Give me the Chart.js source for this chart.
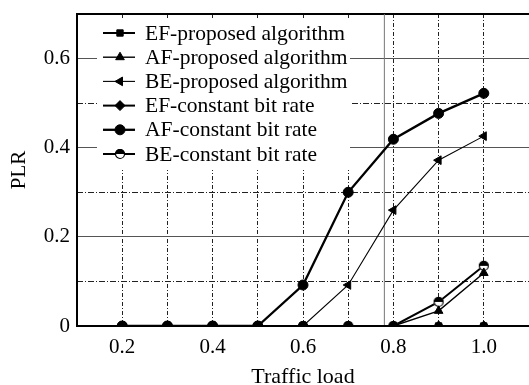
<!DOCTYPE html>
<html>
<head>
<meta charset="utf-8">
<script src="https://cdn.jsdelivr.net/npm/chart.js@4.4.0/dist/chart.umd.min.js"></script>
<style>
  html, body { margin: 0; padding: 0; background: #fff; }
  #wrap { width: 529px; height: 385px; }
</style>
</head>
<body>
<div id="wrap"><canvas id="chart"></canvas></div>
<script>
// traffic load on the x axis
const loads = [0.2, 0.3, 0.4, 0.5, 0.6, 0.7, 0.8, 0.9, 1.0];

// packet loss ratio per class
const efProposed = [0, 0, 0, 0, 0, 0, 0, 0, 0];
const afProposed = [0, 0, 0, 0, 0, 0, 0, 0.034, 0.119];
const beProposed = [0, 0, 0, 0, 0, 0.092, 0.26, 0.372, 0.426];
const efConstant = [0, 0, 0, 0, 0, 0, 0, 0, 0];
const afConstant = [0, 0, 0, 0, 0.092, 0.30, 0.419, 0.477, 0.522];
const beConstant = [0, 0, 0, 0, 0, 0, 0, 0.054, 0.135];

// stray vertical rule in the original figure
const ruleX = [0.78, 0.78];
const ruleY = [0, 0.7];

const xTicks = [0.1, 0.2, 0.3, 0.4, 0.5, 0.6, 0.7, 0.8, 0.9, 1.0, 1.1];
const yMajorTicks = [0, 0.2, 0.4, 0.6];
const yMinorTicks = [0.1, 0.3, 0.5];

const FONT = "'Liberation Serif', 'Times New Roman', serif";

function halfCircle(r) {
  const c = document.createElement("canvas");
  const s = r * 2 + 2;
  c.width = s; c.height = s;
  const g = c.getContext("2d");
  g.beginPath();
  g.arc(s / 2, s / 2, r, 0, Math.PI * 2);
  g.fillStyle = "#fff"; g.fill();
  g.beginPath();
  g.arc(s / 2, s / 2, r, Math.PI, 0);
  g.fillStyle = "#000"; g.fill();
  g.beginPath();
  g.arc(s / 2, s / 2, r - 0.5, 0, Math.PI * 2);
  g.lineWidth = 1.2; g.strokeStyle = "#000"; g.stroke();
  return c;
}

const pts = arr => arr.map((v, i) => ({ x: loads[i], y: v }));

function series(label, data, style, width, radius, rotation) {
  return {
    label,
    data: pts(data),
    borderColor: "#000",
    backgroundColor: "#000",
    borderWidth: width,
    pointStyle: style,
    pointRadius: radius,
    pointRotation: rotation || 0,
    pointBorderWidth: 1,
    pointBackgroundColor: "#000",
    pointBorderColor: "#000",
    tension: 0,
  };
}

const datasets = [
  series("EF-proposed algorithm", efProposed, "rect", 2, 4.5),
  series("AF-proposed algorithm", afProposed, "triangle", 1.4, 5),
  series("BE-proposed algorithm", beProposed, "triangle", 1.1, 5, -90),
  series("EF-constant bit rate", efConstant, "rectRot", 2, 5),
  series("AF-constant bit rate", afConstant, "circle", 2.3, 5),
  series("BE-constant bit rate", beConstant, halfCircle(5), 2, 5),
  {
    data: ruleX.map((x, i) => ({ x, y: ruleY[i] })),
    borderColor: "#777",
    borderWidth: 1,
    pointRadius: 0,
    clip: false,
  },
];

const boxLegend = {
  id: "boxLegend",
  afterDraw(chart) {
    const { ctx, chartArea } = chart;
    const x0 = chartArea.left + 20, y0 = chartArea.top + 6;
    ctx.save();
    ctx.fillStyle = "#fff";
    ctx.fillRect(x0, y0, 253, 150);
    ctx.font = "21.5px " + FONT;
    ctx.textBaseline = "middle";
    ctx.textAlign = "left";
    chart.data.datasets.forEach((ds, i) => {
      if (!ds.label) return;
      const y = chartArea.top + 19 + i * 24.2;
      ctx.strokeStyle = "#000";
      ctx.lineWidth = ds.borderWidth;
      ctx.beginPath();
      ctx.moveTo(x0 + 6, y);
      ctx.lineTo(x0 + 38, y);
      ctx.stroke();
      ctx.fillStyle = "#000";
      ctx.lineWidth = 1;
      Chart.helpers.drawPoint(ctx, {
        pointStyle: ds.pointStyle,
        radius: ds.pointRadius,
        rotation: ds.pointRotation,
        borderWidth: 1,
      }, x0 + 23, y);
      ctx.fillStyle = "#000";
      ctx.fillText(ds.label, x0 + 48, y + 1);
    });
    ctx.restore();
  },
};

new Chart(document.getElementById("chart"), {
  type: "line",
  data: { datasets },
  plugins: [boxLegend],
  options: {
    responsive: true,
    maintainAspectRatio: false,
    animation: false,
    layout: { autoPadding: false, padding: { left: 0, top: 14, right: -3, bottom: 0 } },
    plugins: { legend: { display: false }, tooltip: { enabled: false } },
    scales: {
      x: {
        type: "linear",
        position: "bottom",
        min: 0.1,
        max: 1.1,
        afterBuildTicks: s => { s.ticks = xTicks.map(v => ({ value: v })); },
        afterFit: s => { s.height = 59; s.paddingLeft = 0; s.paddingRight = 0; },
        ticks: {
          padding: 9,
          color: "#000",
          font: { family: FONT, size: 21 },
          callback: v => (Math.round(v * 10) % 2 === 0 && v > 0.15 && v < 1.05) ? v.toFixed(1) : "",
        },
        grid: { color: "#222", lineWidth: 1, drawTicks: false },
        border: { display: true, color: "#000", width: 2, dash: [4, 2, 1, 2] },
        title: {
          display: true,
          text: "Traffic load",
          color: "#000",
          font: { family: FONT, size: 22, lineHeight: 1 },
          padding: { top: 0, bottom: -3 },
        },
      },
      xt: {
        type: "linear",
        position: "top",
        min: 0.1,
        max: 1.1,
        afterFit: s => { s.height = 0; s.paddingLeft = 0; s.paddingRight = 0; },
        ticks: { display: false },
        grid: { display: false },
        border: { display: true, color: "#000", width: 2 },
      },
      y: {
        type: "linear",
        position: "left",
        min: 0,
        max: 0.7,
        afterBuildTicks: s => { s.ticks = yMajorTicks.map(v => ({ value: v })); },
        afterFit: s => { s.width = 77; s.paddingTop = 0; s.paddingBottom = 0; },
        ticks: {
          padding: 7,
          color: "#000",
          font: { family: FONT, size: 21 },
          callback: v => v === 0 ? "0" : v.toFixed(1),
        },
        grid: { color: "#555", lineWidth: 1, drawTicks: false },
        border: { display: true, color: "#000", width: 2 },
        title: {
          display: true,
          text: "PLR",
          color: "#000",
          font: { family: FONT, size: 21, lineHeight: 1.2 },
          padding: { top: 7, bottom: 0 },
        },
      },
      y2: {
        type: "linear",
        position: "left",
        min: 0,
        max: 0.7,
        afterBuildTicks: s => { s.ticks = yMinorTicks.map(v => ({ value: v })); },
        afterFit: s => { s.width = 0; s.paddingTop = 0; s.paddingBottom = 0; },
        ticks: { display: false },
        grid: { color: "#222", lineWidth: 1, drawTicks: false },
        border: { display: false, dash: [6, 2, 1, 2] },
      },
    },
  },
});
</script>
</body>
</html>
